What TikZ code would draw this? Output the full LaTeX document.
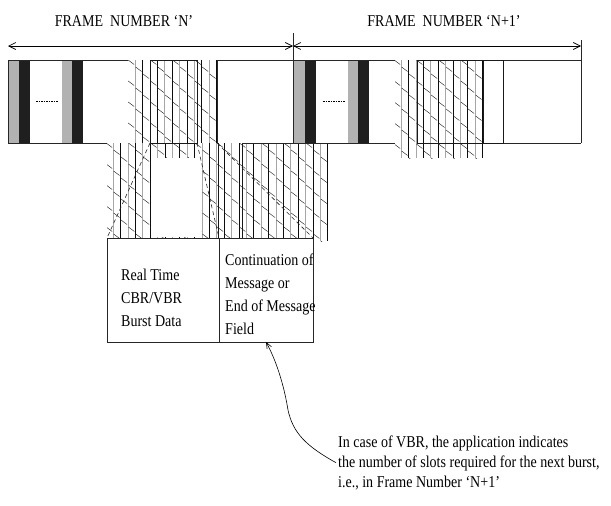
\documentclass[tikz,border=0pt]{standalone}
\usepackage{fontspec}
\setmainfont{Liberation Serif}[FakeStretch=0.85]
\usepackage{tikz}
\usetikzlibrary{arrows.meta,positioning}

\tikzset{
  frm/.style={draw=black!85, line width=0.8pt},
  cell/.style={draw=black!85, line width=0.8pt, fill=white, inner sep=0pt, outer sep=0pt, anchor=north west},
  slotbox/.style={draw=black!90, line width=0.8pt, inner sep=0pt, outer sep=0pt, anchor=north west},
  greybar/.style={fill=black!30},
  darkbar/.style={fill=black!88},
  zoomline/.style={draw=black!85, line width=0.6pt, dash pattern=on 4pt off 3pt},
  txt/.style={font=\fontsize{16.5}{23}\selectfont, inner sep=0pt, align=left},
  barb/.style={{Straight Barb[length=7pt,width=7pt]}-{Straight Barb[length=7pt,width=7pt]}, line width=0.7pt}
}

% hatched slot: ticks from #1, first rule at #2, right end #3, top #4, bottom #5
\newcommand{\slashfill}[5]{%
  \begin{scope}
    \clip (#1,#4) rectangle (#3,#5);
    \pgfmathtruncatemacro{\ncol}{(#3-#2)/7.4}
    \pgfmathtruncatemacro{\nrow}{(#5-#4)/21+1}
    \foreach \i in {0,...,\ncol}{
      \pgfmathsetmacro{\hx}{#2+7.4*\i}
      \pgfmathtruncatemacro{\tone}{ifthenelse(mod(\i,2)==0,35,95)}
      \draw[draw=black!\tone, line width=0.6pt] (\hx,#4) -- (\hx,#5);
      \foreach \k in {-1,...,\nrow}{
        \pgfmathsetmacro{\hy}{#4+mod(7*\i,21)+21*\k}
        \draw[black!85, line width=0.45pt] (\hx-6.8,\hy) -- (\hx-0.8,\hy+4.5);
      }
    }
  \end{scope}}

\begin{document}
\begin{tikzpicture}[x=1pt,y=-1pt]
\useasboundingbox (0,0) rectangle (611,506);

% headings and frame arrows
\node[txt, anchor=base] (hdrN) at (124,26) {FRAME~~NUMBER ‘N’};
\node[txt, anchor=base] (hdrNext) at (444,26) {FRAME~~NUMBER ‘N+1’};
\coordinate (fl) at (8,46);
\coordinate (fm) at (293,46);
\coordinate (fr) at (581,46);
\draw[barb] (fl) -- (fm);
\draw[barb] (fm) -- (fr);

% hatched slots
\slashfill{128}{135}{217.5}{60}{143}
\slashfill{395}{401}{483.5}{60}{158}
\slashfill{107}{113}{331}{143}{241}
\fill[white] (151,158) rectangle (201.3,237);
\draw[black!90, line width=0.6pt] (218,143) -- (218,238);
\draw[black!90, line width=0.6pt] (242,143) -- (242,241);

% frame N
\fill[greybar] (8,60) rectangle (19,143);
\fill[darkbar] (19,60) rectangle (30,143);
\fill[greybar] (62,60) rectangle (72,143);
\fill[darkbar] (72,60) rectangle (83,143);
\draw[line width=0.9pt, dash pattern=on 1.5pt off 1pt] (36,101) -- (58,101);

% frame N+1
\fill[greybar] (294,60) rectangle (305,143);
\fill[darkbar] (305,60) rectangle (316,143);
\fill[greybar] (348,60) rectangle (358,143);
\fill[darkbar] (358,60) rectangle (369,143);
\draw[line width=0.9pt, dash pattern=on 1.5pt off 1pt] (323,101) -- (345,101);

% frame outline
\draw[frm] (128,60) -- (8,60) -- (8,143) -- (107,143);
\draw[frm] (217,60) -- (395,60);
\draw[frm] (242,143) -- (395,143);
\draw[frm] (417,60) -- (581,60);
\draw[frm] (483,143) -- (581,143);
\draw[frm] (293,33) -- (293,143);
\draw[frm] (581,40) -- (581,143);

% slot boxes
\node[slotbox, minimum width=47, minimum height=83] (slotN) at (150,60) {};
\coordinate (colN) at (217,143);
\draw[frm] (217,60) -- (colN);
\node[slotbox, minimum width=66, minimum height=83] (slotNext) at (417,60) {};
\node[slotbox, fill=white, minimum width=20, minimum height=83] (tailNext) at (483,60) {};

% expanded burst
\node[cell, minimum width=112, minimum height=104] (rt) at (107,238) {};
\node[cell, minimum width=94, minimum height=104, right=0pt of rt] (cont) {};
\draw[zoomline] (slotN.south west) -- (rt.north west);
\draw[zoomline] (slotN.south east) -- (rt.north east);
\draw[zoomline] (colN) -- (cont.north east);

\node[txt, anchor=north west] (rttext) at (121,268.7) {Real Time\\CBR/VBR\\Burst Data};
\node[txt, anchor=north west] (conttext) at (225,253.7) {Continuation of\\Message or\\End of Message\\Field};

% note
\node[txt, anchor=north west, font=\fontsize{16.5}{20}\selectfont] (note) at (338,435.4) {In case of VBR, the application indicates\\the number of slots required for the next burst,\\i.e., in Frame Number ‘N+1’};
\draw[-{Straight Barb[length=6pt,width=5pt]}, line width=0.6pt] ([xshift=-2pt]note.west) .. controls (306,446) and (293,433) .. (288,410) .. controls (284,385) and (276,360) .. (cont.south);
\end{tikzpicture}
\end{document}
